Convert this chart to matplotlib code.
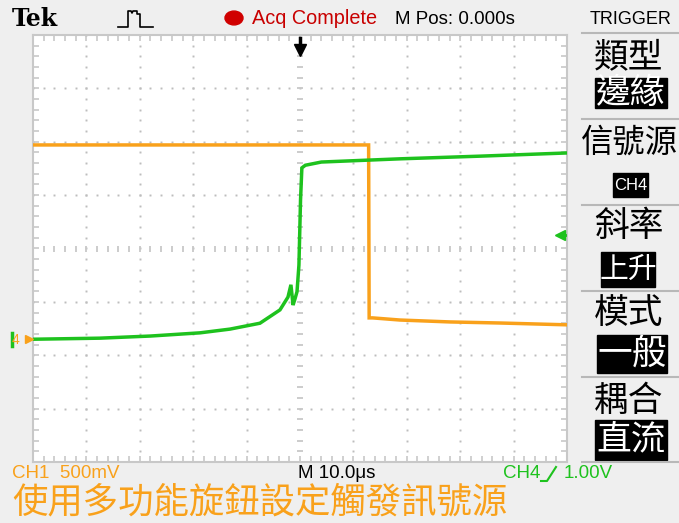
import numpy as np
import matplotlib.pyplot as plt
from matplotlib.patches import Rectangle, Circle
from matplotlib.lines import Line2D

# --- trace data (time in us, volts) ---
ch1_t = [-50, -30, -10, 5, 12.85, 12.95, 13.6, 18.7, 28.1, 37.5, 50]
ch1_v = [1.82, 1.82, 1.82, 1.82, 1.82, 0.20, 0.20, 0.18, 0.162, 0.152, 0.135]

ch4_t = [-50, -37.5, -28, -18.7, -13.1, -7.5, -3.75, -2.25, -1.7, -1.3, -0.9,
         -0.56, -0.2, 0.1, 0.35, 1.0, 4, 18.7, 33.7, 50]
ch4_v = [0.0, 0.02, 0.06, 0.12, 0.19, 0.30, 0.55, 0.79, 1.02, 0.64, 0.77,
         0.89, 1.39, 2.61, 3.21, 3.26, 3.32, 3.38, 3.43, 3.49]

ch1_scale, ch4_scale = 0.5, 1.0      # V/div
ground_pos = -1.70                   # div, both channels
trig_level = 1.95                    # CH4 volts (marker position)

menu_titles = ['類型', '信號源', '斜率', '模式', '耦合']
menu_values = ['邊緣', 'CH4', '上升', '一般', '直流']

ORANGE = '#F9A11B'
GREEN = '#1EC21E'
GRID = '#bdbdbd'
NARROW = ['Liberation Sans', 'DejaVu Sans']
CJK = ['Noto Sans CJK TC', 'DejaVu Sans']

W, H = 679, 523
fig = plt.figure(figsize=(W / 100, H / 100), dpi=100, facecolor='#efefef')


def fx(x):
    return x / W


def fy(y):
    return 1 - y / H


ax = fig.add_axes([fx(33), fy(462), (567 - 33) / W, (462 - 35) / H], facecolor='white')
ax.set_xlim(-50, 50)
ax.set_ylim(-4, 4)

# graticule
for gx in range(-40, 50, 10):
    if gx == 0:
        continue
    ys = np.arange(-4, 4.01, 0.2)
    ax.plot([gx] * len(ys), ys, 's', ms=1.4, color=GRID, mew=0)
for gy in range(-3, 4):
    if gy == 0:
        continue
    xs = np.arange(-50, 50.1, 2)
    ax.plot(xs, [gy] * len(xs), 's', ms=1.4, color=GRID, mew=0)
xs = np.arange(-48, 49, 2)
ax.plot(xs, [0] * len(xs), '|', ms=5, mew=1.3, color='#c8c8c8')
ys = np.arange(-3.8, 3.9, 0.2)
ax.plot([0] * len(ys), ys, '_', ms=5, mew=1.3, color='#c8c8c8')

ax.set_xticks([])
ax.set_yticks([])
ax.set_xticks(np.arange(-48, 49, 2), minor=True)
ax.set_yticks(np.arange(-3.8, 3.9, 0.2), minor=True)
ax.tick_params(which='minor', direction='in', length=4, width=1.2, color='#c8c8c8',
               top=True, right=True, labelbottom=False, labelleft=False)
for s in ax.spines.values():
    s.set_color('#c8c8c8')
    s.set_linewidth(1.5)

# traces
ax.plot(ch1_t, np.array(ch1_v) / ch1_scale + ground_pos, color=ORANGE, lw=2.5,
        solid_joinstyle='miter', zorder=5)
ax.plot(ch4_t, np.array(ch4_v) / ch4_scale + ground_pos, color=GREEN, lw=2.5,
        solid_joinstyle='miter', zorder=6)

# markers: trigger position, trigger level, channel grounds
ax.plot([0, 0], [3.95, 3.8], color='black', lw=2.5, clip_on=False, zorder=7)
ax.plot([0], [3.72], 'v', ms=8, color='black', clip_on=False, zorder=7)
ax.plot([49.4, 50], [trig_level / ch4_scale + ground_pos] * 2, color=GREEN, lw=2, zorder=7)
ax.plot([48.6], [trig_level / ch4_scale + ground_pos], '<', ms=7, color=GREEN, zorder=7)
ax.plot([-50.8], [ground_pos], '>', ms=6, color=ORANGE, clip_on=False, zorder=7)
ax.plot([-53.9, -53.9], [ground_pos - 0.12, ground_pos + 0.12], color=GREEN, lw=2.5,
        clip_on=False)
fig.text(fx(15), fy(340), '4', color=ORANGE, fontsize=10, family=NARROW,
         ha='center', va='center')

# top status bar
fig.text(fx(12), fy(19), 'Tek', fontsize=17, family='DejaVu Serif', weight='bold',
         ha='left', va='center')
icon_x = [118, 128, 128, 131, 132, 133, 137, 137, 140, 140, 153]
icon_y = [27, 27, 11, 11, 13, 11, 11, 14, 14, 27, 27]
fig.add_artist(Line2D([fx(x) for x in icon_x], [fy(y) for y in icon_y],
                      color='black', lw=1.2))
fig.add_artist(Circle((fx(234), fy(18)), 9 / W, color='#D00000',
                      transform=fig.transFigure))
fig.text(fx(252), fy(19), 'Acq Complete', fontsize=14.3, family=NARROW, color='#C80000',
         ha='left', va='center')
fig.text(fx(395), fy(19), 'M Pos: 0.000s', fontsize=13.5, family=NARROW,
         ha='left', va='center')
fig.text(fx(631), fy(19), 'TRIGGER', fontsize=13, family=NARROW,
         ha='center', va='center')

# side menu
seps = [33, 119, 205, 291, 377, 462]
for y in seps:
    fig.add_artist(Line2D([fx(582), fx(679)], [fy(y), fy(y)], color='#b8b8b8', lw=1.5))
title_y = [58, 143, 227, 313, 401]
title_size = [25, 23.3, 25, 25, 25]
boxes = [(595, 78, 667, 108), (613, 173, 648, 197), (601, 252, 655, 287),
         (597, 335, 667, 373), (595, 420, 667, 460)]
for title, val, ty, ts, (x0, y0, x1, y1) in zip(menu_titles, menu_values, title_y,
                                                 title_size, boxes):
    fig.text(fx(629), fy(ty), title, fontsize=ts, family=CJK, ha='center', va='center')
    fig.add_artist(Rectangle((fx(x0), fy(y1)), (x1 - x0) / W, (y1 - y0) / H,
                             color='black', transform=fig.transFigure))
    if val == 'CH4':
        size, fam = 12, NARROW
    else:
        size, fam = min(25, (x1 - x0) / 2.6), CJK
    fig.text(fx((x0 + x1) / 2), fy((y0 + y1) / 2), val, fontsize=size, family=fam,
             color='white', ha='center', va='center')

# bottom readouts
fig.text(fx(12), fy(474), 'CH1  500mV', fontsize=13.5, family=NARROW, color=ORANGE,
         ha='left', va='center')
fig.text(fx(298), fy(474), 'M 10.0\u03bcs', fontsize=13.5, family=NARROW,
         ha='left', va='center')
fig.text(fx(503), fy(474), 'CH4', fontsize=13.5, family=NARROW, color=GREEN,
         ha='left', va='center')
fig.add_artist(Line2D([fx(x) for x in [541, 547, 556]], [fy(y) for y in [481, 481, 467]],
                      color=GREEN, lw=1.5))
fig.text(fx(564), fy(474), '1.00V', fontsize=13.5, family=NARROW, color=GREEN,
         ha='left', va='center')
fig.text(fx(12), fy(503), '使用多功能旋鈕設定觸發訊號源', fontsize=25.5, family=CJK,
         color=ORANGE, ha='left', va='center')

fig.savefig('out.png', dpi=100, facecolor=fig.get_facecolor())
